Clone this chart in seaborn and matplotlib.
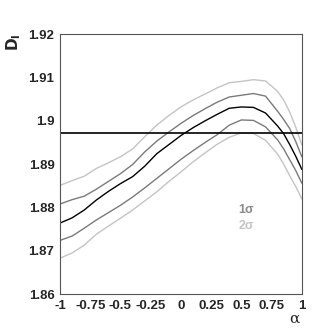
import numpy as np
import pandas as pd
import seaborn as sns
import matplotlib.pyplot as plt
from matplotlib.ticker import AutoMinorLocator

# values
alpha = [-1, -0.9, -0.8, -0.7, -0.6, -0.5, -0.4, -0.3, -0.2, -0.1, 0, 0.1, 0.2,
         0.3, 0.4, 0.5, 0.6, 0.7, 0.8, 0.85, 0.9, 0.95, 1.0]
center = [1.8764, 1.8776, 1.8794, 1.8817, 1.8837, 1.8855, 1.8871, 1.8895, 1.8924,
          1.8945, 1.8966, 1.8984, 1.9000, 1.9015, 1.9029, 1.9032, 1.9031, 1.9018,
          1.8988, 1.8970, 1.8945, 1.8918, 1.8888]
upper1 = [1.8808, 1.8818, 1.8826, 1.8842, 1.8860, 1.8878, 1.8899, 1.8928, 1.8953,
          1.8974, 1.8994, 1.9012, 1.9028, 1.9043, 1.9055, 1.9059, 1.9063, 1.9057,
          1.9022, 1.9003, 1.8982, 1.8952, 1.8917]
lower1 = [1.8724, 1.8734, 1.8752, 1.8771, 1.8788, 1.8805, 1.8824, 1.8845, 1.8867,
          1.8889, 1.8911, 1.8931, 1.8950, 1.8968, 1.8990, 1.9002, 1.9001, 1.8986,
          1.8956, 1.8935, 1.8910, 1.8885, 1.8856]
upper2 = [1.8851, 1.8862, 1.8872, 1.8890, 1.8903, 1.8917, 1.8935, 1.8963, 1.8990,
          1.9012, 1.9032, 1.9048, 1.9062, 1.9076, 1.9088, 1.9091, 1.9095, 1.9092,
          1.9068, 1.9048, 1.9020, 1.8985, 1.8944]
lower2 = [1.8683, 1.8695, 1.8713, 1.8738, 1.8757, 1.8775, 1.8794, 1.8815, 1.8836,
          1.8860, 1.8882, 1.8905, 1.8926, 1.8946, 1.8962, 1.8972, 1.8971, 1.8955,
          1.8923, 1.8900, 1.8873, 1.8848, 1.8820]
d_ref = 1.8973

xticks = [-1, -0.75, -0.5, -0.25, 0, 0.25, 0.5, 0.75, 1]
xticklabels = ["-1", "-0.75", "-0.5", "-0.25", "0", "0.25", "0.5", "0.75", "1"]
yticks = [1.86, 1.87, 1.88, 1.89, 1.90, 1.91, 1.92]
yticklabels = ["1.86", "1.87", "1.88", "1.89", "1.9", "1.91", "1.92"]

curves = {"2s_up": upper2, "2s_lo": lower2, "1s_up": upper1, "1s_lo": lower1, "c": center}
colors = {"2s_up": "#c4c4c4", "2s_lo": "#c4c4c4", "1s_up": "#7a7a7a", "1s_lo": "#7a7a7a", "c": "#000000"}

df = pd.concat([pd.DataFrame({"alpha": alpha, "D": v, "curve": k}) for k, v in curves.items()])

sns.set_style("white")
plt.rcParams["font.family"] = ["Liberation Sans", "DejaVu Sans"]

fig = plt.figure(figsize=(3.35, 3.35), dpi=100)
ax = fig.add_axes([0.179, 0.122, 0.722, 0.776])

sns.lineplot(data=df, x="alpha", y="D", hue="curve", palette=colors, sort=False,
             estimator=None, linewidth=1.0, legend=False, ax=ax)
ax.axhline(d_ref, color="black", linewidth=1.2)

ax.set_xlim(-1, 1)
ax.set_ylim(1.86, 1.92)
ax.set_xticks(xticks)
ax.set_xticklabels(xticklabels, fontsize=9.5, fontweight="bold")
ax.set_yticks(yticks)
ax.set_yticklabels(yticklabels, fontsize=9.5, fontweight="bold")
ax.xaxis.set_minor_locator(AutoMinorLocator(5))
ax.yaxis.set_minor_locator(AutoMinorLocator(5))
ax.tick_params(which="major", direction="in", length=5, width=0.6, color="#888888", pad=4)
ax.tick_params(which="minor", direction="in", length=2.5, width=0.5, color="#bbbbbb")
ax.set_xlabel("")
ax.set_ylabel("")
for s in ax.spines.values():
    s.set_color("#555555")
    s.set_linewidth(0.8)

fig.text(0.88, 0.05, "α", fontsize=11, ha="center", va="center",
         family=["DejaVu Serif"])
fig.text(0.04, 0.875, r"$\mathbf{D_{l}}$", fontsize=11, rotation=90, ha="center", va="center")
ax.text(0.77, 0.323, "1σ", transform=ax.transAxes, fontsize=9, fontweight="bold",
        color="#8a8a8a", ha="center", va="center")
ax.text(0.77, 0.262, "2σ", transform=ax.transAxes, fontsize=9, fontweight="bold",
        color="#c4c4c4", ha="center", va="center")

fig.savefig("out.png", dpi=100)
